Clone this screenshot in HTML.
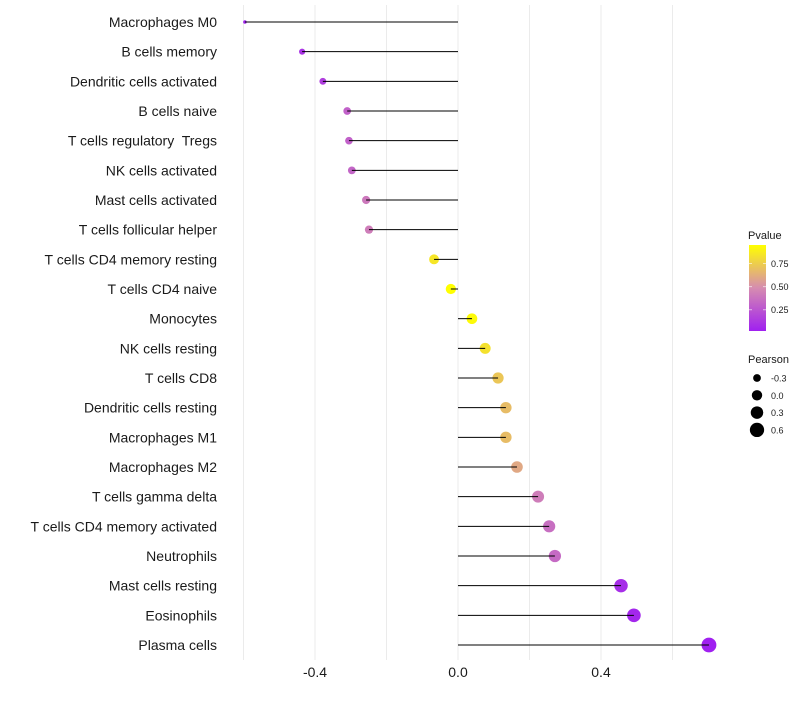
<!DOCTYPE html>
<html><head><meta charset="utf-8"><style>
body{margin:0;background:#fff;font-family:"Liberation Sans",sans-serif}
text{white-space:pre}
</style></head><body>
<svg id="c" width="800" height="700" xmlns="http://www.w3.org/2000/svg" xml:space="preserve">
<defs><linearGradient id="pg" x1="0" y1="1" x2="0" y2="0">
<stop offset="0" stop-color="#a020f0"/><stop offset="0.5" stop-color="#d68cb0"/><stop offset="1" stop-color="#ffff00"/></linearGradient></defs>
</svg>
<script>
const categories=["Macrophages M0","B cells memory","Dendritic cells activated","B cells naive","T cells regulatory  Tregs","NK cells activated","Mast cells activated","T cells follicular helper","T cells CD4 memory resting","T cells CD4 naive","Monocytes","NK cells resting","T cells CD8","Dendritic cells resting","Macrophages M1","Macrophages M2","T cells gamma delta","T cells CD4 memory activated","Neutrophils","Mast cells resting","Eosinophils","Plasma cells"];
const pearson=[-0.596,-0.436,-0.378,-0.31,-0.305,-0.297,-0.257,-0.249,-0.067,-0.02,0.039,0.076,0.112,0.134,0.134,0.165,0.224,0.255,0.271,0.456,0.492,0.702];
const pvalue=[0.03,0.1,0.15,0.3,0.3,0.32,0.4,0.42,0.85,0.95,0.93,0.83,0.72,0.68,0.68,0.6,0.42,0.36,0.34,0.08,0.05,0.02];
const xTicks=[-0.4,0,0.4];
const xTickLabels=["-0.4","0.0","0.4"];
const gridVals=[-0.6,-0.4,-0.2,0,0.2,0.4,0.6];
const pTicks=[0.25,0.5,0.75];
const pTickLabels=["0.25","0.50","0.75"];
const sizeVals=[-0.3,0,0.3,0.6];
const sizeLabels=["-0.3","0.0","0.3","0.6"];

const NS="http://www.w3.org/2000/svg",svg=document.getElementById('c');
const X=v=>458+v*357.5;
const Y=i=>22+i*(623/21);
const R=v=>Math.sqrt(Math.max(3,27+40*v));
function lerp(a,b,t){return a.map((x,i)=>Math.round(x+(b[i]-x)*t));}
function col(p){const t=Math.min(1,Math.max(0,(p-0.02)/0.93));const a=[160,32,240],m=[214,140,176],b=[255,255,0];
 const c=t<0.5?lerp(a,m,t*2):lerp(m,b,(t-0.5)*2);return `rgb(${c})`;}
function mk(tag,at,txt){const e=document.createElementNS(NS,tag);for(const k in at)e.setAttribute(k,at[k]);if(txt!==undefined)e.textContent=txt;svg.appendChild(e);return e;}
gridVals.forEach(v=>{const e=mk('line',{x1:X(v),x2:X(v),y1:5,y2:660,stroke:'#ebebeb','stroke-width':1});

});
categories.forEach((c,i)=>{
 const p=mk('circle',{cx:X(pearson[i]),cy:Y(i),r:R(pearson[i]),fill:col(pvalue[i])});
 
 
 const l=mk('line',{x1:X(0),x2:X(pearson[i]),y1:Y(i),y2:Y(i),stroke:'#000','stroke-width':1});
 
 
 const t=mk('text',{x:217,y:Y(i)+5,'text-anchor':'end','font-size':14,fill:'#1a1a1a'},c);
 
 
});
xTicks.forEach((v,i)=>{const t=mk('text',{x:X(v),y:677,'text-anchor':'middle','font-size':14,fill:'#1a1a1a'},xTickLabels[i]);

});
let e=mk('text',{x:748,y:239,'font-size':11,fill:'#1a1a1a'},'Pvalue');


e=mk('rect',{x:749,y:245,width:17,height:86,fill:'url(#pg)'});


const PY=p=>331-(p-0.02)/0.93*86;
pTicks.forEach((p,i)=>{
 e=mk('text',{x:771,y:PY(p)+3.5,'font-size':9,fill:'#1a1a1a'},pTickLabels[i]);
 
 
 e=mk('line',{x1:749,x2:752,y1:PY(p),y2:PY(p),stroke:'#fff','stroke-opacity':0.6});
 
 
 e=mk('line',{x1:763,x2:766,y1:PY(p),y2:PY(p),stroke:'#fff','stroke-opacity':0.6});
 
 
});
e=mk('text',{x:748,y:363,'font-size':11,fill:'#1a1a1a'},'Pearson');


sizeVals.forEach((v,i)=>{const y=378+i*17.3;
 e=mk('circle',{cx:757,cy:y,r:R(v),fill:'#000'});
 
 
 e=mk('text',{x:771,y:y+3.5,'font-size':9,fill:'#1a1a1a'},sizeLabels[i]);
 
 
});
</script>
</body></html>
